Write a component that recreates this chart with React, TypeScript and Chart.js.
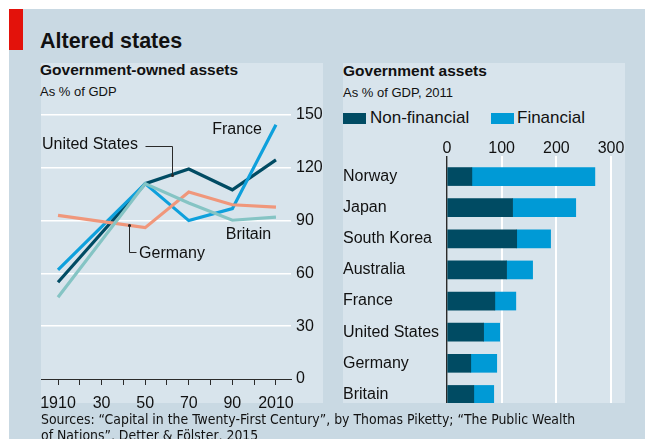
import React, { useEffect, useRef } from "react";
import { Chart, registerables } from "chart.js";

Chart.register(...registerables);

// ---------- data ----------
const lineYears = [1910, 1950, 1970, 1990, 2010];
const unitedStates = [55, 111, 119.3, 107.5, 124.5];
const france = [62, 111, 90, 96.8, 144.5];
const britain = [46.5, 111, 100, 90.2, 92];
const germany = [93, 86, 106.3, 99, 97.7];

const decadeTicks = [1910, 1920, 1930, 1940, 1950, 1960, 1970, 1980, 1990, 2000, 2010];
const decadeLabels = ["1910", "", "30", "", "50", "", "70", "", "90", "", "2010"];
const gdpTicks = [0, 30, 60, 90, 120, 150];

const countries = ["Norway", "Japan", "South Korea", "Australia", "France", "United States", "Germany", "Britain"];
const nonFinancial = [45.5, 120, 127.5, 109, 87.5, 67, 43.5, 49];
const financial = [225, 115.5, 62, 47.6, 38.4, 29.4, 47.5, 36.5];
const assetTicks = [0, 100, 200, 300];

// ---------- style ----------
const FONT = "'Liberation Sans', Arial, sans-serif";
const NARROW = "'Liberation Sans Narrow', 'DejaVu Sans Condensed', 'Liberation Sans', sans-serif";
const TEXT = "#111111";
const OUTER_BG = "#c9d9e3";
const PANEL_BG = "#d8e4ec";
const RED = "#e3120b";
const DARK = "#004b63";
const BLUE = "#009ad6";
const FRANCE = "#0ea0dc";
const BRITAIN = "#85c4c4";
const GERMANY = "#f0977b";

function LineChart() {
  const ref = useRef<HTMLCanvasElement>(null);
  useEffect(() => {
    if (!ref.current) return;
    const mk = (label: string, values: number[], color: string) => ({
      label,
      data: lineYears.map((yr, i) => ({ x: yr, y: values[i] })),
      borderColor: color,
      backgroundColor: color,
      borderWidth: 3.2,
      pointRadius: 0,
      tension: 0,
      fill: false,
      borderCapStyle: "butt" as const,
      borderJoinStyle: "miter" as const,
    });

    const annotations = {
      id: "annotations",
      afterDatasetsDraw(chart: any) {
        const { ctx, scales } = chart;
        const px = (v: number) => Math.round(scales.x.getPixelForValue(v)) + 0.5;
        const py = (v: number) => Math.round(scales.y.getPixelForValue(v)) + 0.5;
        ctx.save();
        ctx.font = `16px ${FONT}`;
        ctx.fillStyle = TEXT;
        ctx.textBaseline = "middle";
        ctx.textAlign = "right";
        ctx.fillText("France", scales.x.getPixelForValue(2003.6), scales.y.getPixelForValue(141.5));
        ctx.fillText("United States", scales.x.getPixelForValue(1946.7), scales.y.getPixelForValue(133));
        ctx.textAlign = "left";
        ctx.fillText("Britain", scales.x.getPixelForValue(1987), scales.y.getPixelForValue(81.8));
        ctx.fillText("Germany", scales.x.getPixelForValue(1947.2), scales.y.getPixelForValue(71));

        ctx.strokeStyle = "#2a2a2a";
        ctx.lineWidth = 1;
        ctx.beginPath();
        ctx.moveTo(px(1949.9), py(132.6));
        ctx.lineTo(px(1962.2), py(132.6));
        ctx.lineTo(px(1962.2), py(116));
        ctx.stroke();
        ctx.beginPath();
        ctx.moveTo(px(1942.6), py(87.4));
        ctx.lineTo(px(1942.6), py(72));
        ctx.lineTo(px(1945.6), py(72));
        ctx.stroke();
        ctx.fillStyle = "#2a2a2a";
        ctx.beginPath();
        ctx.arc(px(1962.2), py(116), 1.6, 0, Math.PI * 2);
        ctx.arc(px(1942.6), py(87.4), 1.6, 0, Math.PI * 2);
        ctx.fill();
        ctx.restore();
      },
    };

    const chart = new Chart(ref.current, {
      type: "line",
      data: {
        datasets: [
          mk("Britain", britain, BRITAIN),
          mk("Germany", germany, GERMANY),
          mk("France", france, FRANCE),
          mk("United States", unitedStates, DARK),
        ],
      },
      options: {
        animation: false,
        responsive: false,
        maintainAspectRatio: false,
        layout: { padding: { top: 13, left: 0, right: 0, bottom: 0 } },
        plugins: { legend: { display: false }, tooltip: { enabled: false } },
        scales: {
          x: {
            type: "linear",
            min: 1902.2,
            max: 2016.9,
            afterBuildTicks: (s: any) => {
              s.ticks = decadeTicks.map((v) => ({ value: v }));
            },
            afterFit: (s: any) => {
              s.height = 33;
              s.paddingLeft = 0;
              s.paddingRight = 0;
            },
            grid: { drawOnChartArea: false, drawTicks: true, tickLength: 6, color: "#2a2a2a", lineWidth: 1 },
            border: { display: true, color: "#2a2a2a", width: 1 },
            ticks: {
              autoSkip: false,
              maxRotation: 0,
              padding: 9,
              color: TEXT,
              font: { family: FONT, size: 16 },
              callback: (v: any) => decadeLabels[decadeTicks.indexOf(Number(v))] ?? "",
            },
          },
          y: {
            position: "right",
            min: 0,
            max: 150,
            afterBuildTicks: (s: any) => {
              s.ticks = gdpTicks.map((v) => ({ value: v }));
            },
            afterFit: (s: any) => {
              s.width = 32;
              s.paddingTop = 0;
              s.paddingBottom = 0;
            },
            grid: {
              drawTicks: false,
              lineWidth: 1.6,
              color: (c: any) => (c.tick && c.tick.value === 0 ? "rgba(0,0,0,0)" : "#ffffff"),
            },
            border: { display: false },
            ticks: { padding: 5, color: TEXT, font: { family: FONT, size: 16 } },
          },
        },
      },
      plugins: [annotations],
    } as any);
    return () => chart.destroy();
  }, []);
  return (
    <canvas
      ref={ref}
      width={282}
      height={310}
      style={{ position: "absolute", left: 41, top: 102, width: 282, height: 310 }}
    />
  );
}

function BarChart() {
  const ref = useRef<HTMLCanvasElement>(null);
  useEffect(() => {
    if (!ref.current) return;
    const chart = new Chart(ref.current, {
      type: "bar",
      data: {
        labels: countries,
        datasets: [
          { label: "Non-financial", data: nonFinancial, backgroundColor: DARK, borderWidth: 0, barThickness: 18 },
          { label: "Financial", data: financial, backgroundColor: BLUE, borderWidth: 0, barThickness: 18 },
        ],
      },
      options: {
        indexAxis: "y",
        animation: false,
        responsive: false,
        maintainAspectRatio: false,
        layout: { padding: { top: 0, left: 0, right: 20, bottom: 0 } },
        plugins: { legend: { display: false }, tooltip: { enabled: false } },
        scales: {
          x: {
            position: "top",
            stacked: true,
            min: 0,
            max: 325.6,
            afterBuildTicks: (s: any) => {
              s.ticks = assetTicks.map((v) => ({ value: v }));
            },
            afterFit: (s: any) => {
              s.height = 31;
              s.paddingLeft = 0;
            },
            grid: {
              drawTicks: true,
              tickLength: 5,
              color: (c: any) => (c.tick && c.tick.value === 0 ? "#2a2a2a" : "#ffffff"),
              lineWidth: (c: any) => (c.tick && c.tick.value === 0 ? 1.4 : 2),
            },
            border: { display: false },
            ticks: { padding: -2, color: TEXT, font: { family: FONT, size: 16 } },
          },
          y: {
            stacked: true,
            afterFit: (s: any) => {
              s.width = 104;
              s.paddingTop = 0;
              s.paddingBottom = 0;
            },
            grid: { display: false },
            border: { display: false },
            ticks: { crossAlign: "far", padding: 0, color: TEXT, font: { family: FONT, size: 16 } },
          },
        },
      },
    } as any);
    return () => chart.destroy();
  }, []);
  return (
    <div style={{ position: "absolute", left: 343, top: 130, width: 302, height: 273, overflow: "hidden" }}>
      <canvas ref={ref} width={302} height={280} style={{ display: "block", width: 302, height: 280 }} />
    </div>
  );
}

const abs = (left: number, top: number, extra: React.CSSProperties = {}): React.CSSProperties => ({
  position: "absolute",
  left,
  top,
  whiteSpace: "nowrap",
  ...extra,
});

export default function App() {
  return (
    <div
      style={{
        position: "absolute",
        left: 0,
        top: 0,
        width: 645,
        height: 439,
        overflow: "hidden",
        background: "#ffffff",
        fontFamily: FONT,
        color: TEXT,
      }}
    >
      <div style={{ position: "absolute", left: 9, top: 9, width: 636, height: 430, background: OUTER_BG }} />
      <div style={{ position: "absolute", left: 9, top: 9, width: 14, height: 41, background: RED }} />
      <div style={{ position: "absolute", left: 41, top: 63, width: 282, height: 340, background: PANEL_BG }} />
      <div style={{ position: "absolute", left: 343, top: 63, width: 282, height: 340, background: PANEL_BG }} />

      <div style={abs(40, 29, { fontSize: 21.5, fontWeight: 700, lineHeight: "24px" })}>Altered states</div>

      <div style={abs(40, 61, { fontSize: 15.5, fontWeight: 700, lineHeight: "18px" })}>Government-owned assets</div>
      <div style={abs(40, 84, { fontSize: 13, lineHeight: "16px" })}>As % of GDP</div>

      <div style={abs(343, 62, { fontSize: 15.5, fontWeight: 700, lineHeight: "18px" })}>Government assets</div>
      <div style={abs(343, 85, { fontSize: 13, lineHeight: "16px" })}>As % of GDP, 2011</div>

      <div style={{ position: "absolute", left: 343, top: 113, width: 23, height: 11, background: DARK }} />
      <div style={abs(370, 108, { fontSize: 17, lineHeight: "20px" })}>Non-financial</div>
      <div style={{ position: "absolute", left: 491, top: 113, width: 23, height: 11, background: BLUE }} />
      <div style={abs(517, 108, { fontSize: 17, lineHeight: "20px" })}>Financial</div>

      <LineChart />
      <BarChart />

      <div style={abs(41, 411, { fontSize: 13.9, lineHeight: "16px", fontFamily: NARROW })}>
        Sources: “Capital in the Twenty-First Century”, by Thomas Piketty; “The Public Wealth
      </div>
      <div style={abs(41, 427, { fontSize: 13.9, lineHeight: "16px", fontFamily: NARROW })}>
        of Nations”, Detter &amp; Fölster, 2015
      </div>
    </div>
  );
}
